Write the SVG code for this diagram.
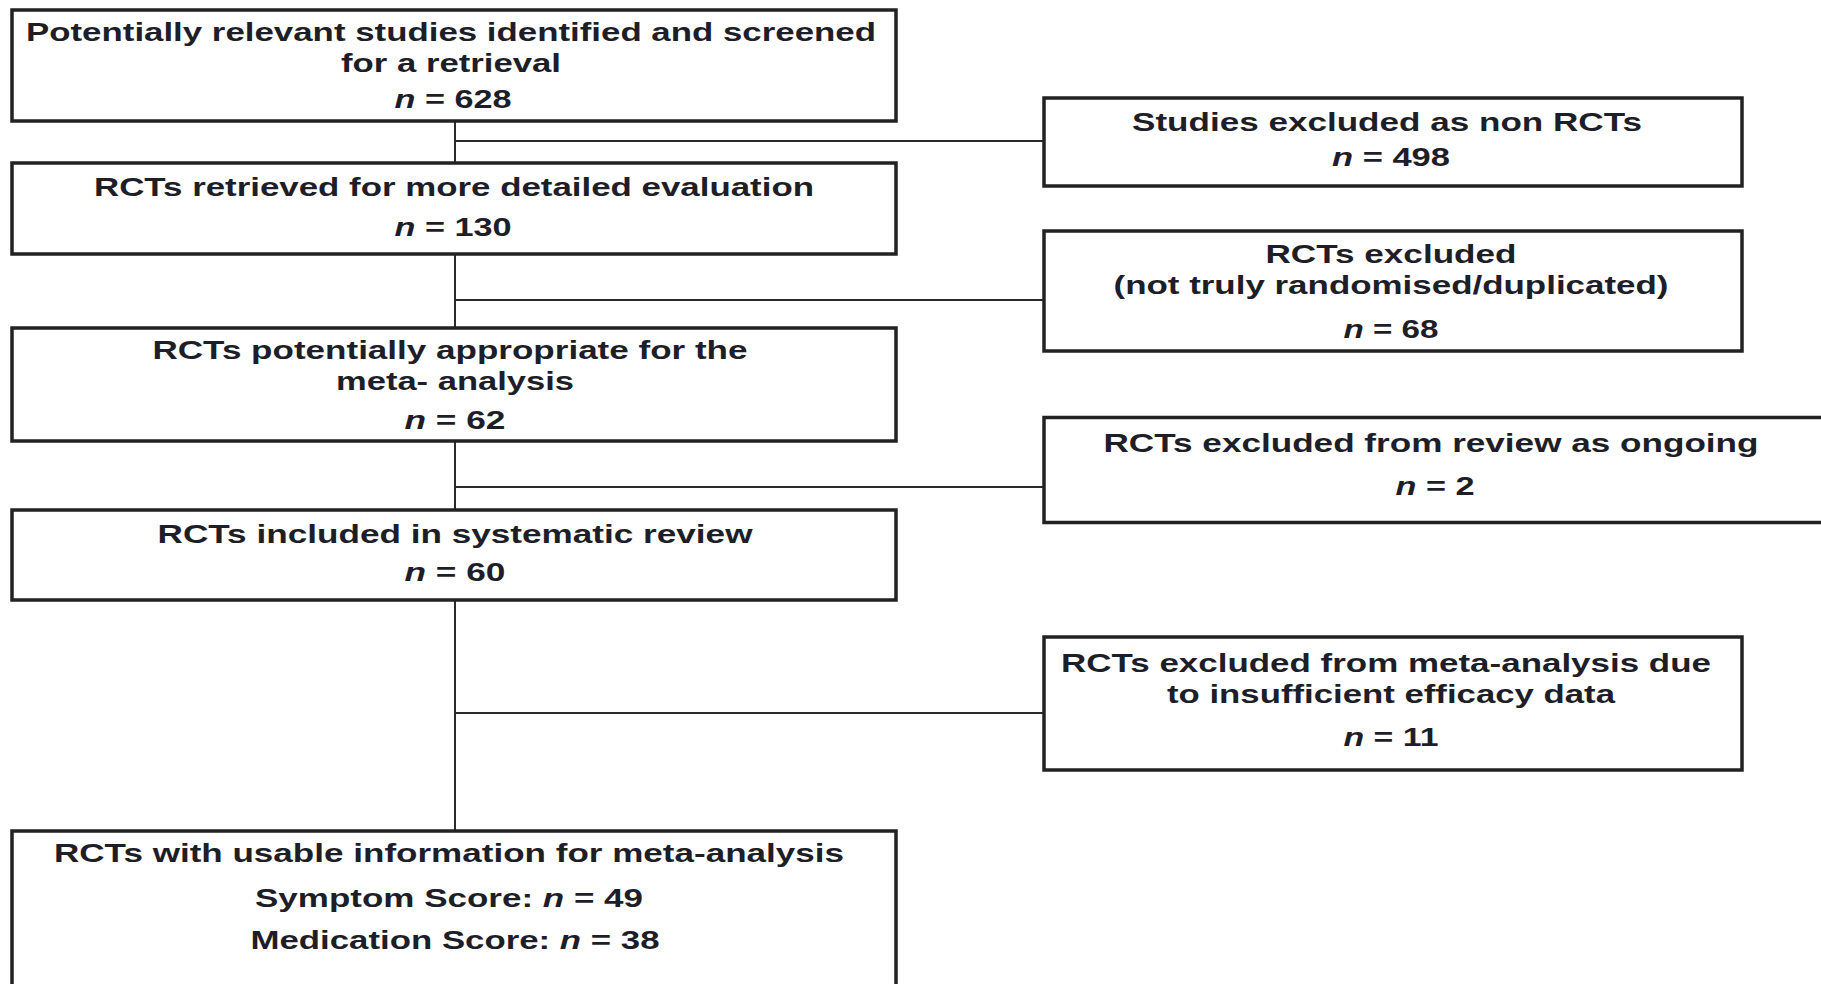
<svg xmlns="http://www.w3.org/2000/svg" width="1821" height="984" viewBox="0 0 1821 984">
<style>
.box{fill:#fff;stroke:#222;stroke-width:3.5}
.conn{stroke:#2a2a2a;stroke-width:2;fill:none}
text{font-family:"Liberation Sans",Arial,sans-serif;font-weight:bold;font-size:26px;fill:#1e1e28;text-anchor:middle}
.i{font-style:italic}
</style>
<rect width="1821" height="984" fill="#fff"/>
<g id="connectors">
<line class="conn" x1="455" y1="121" x2="455" y2="163"/>
<line class="conn" x1="455" y1="254" x2="455" y2="328"/>
<line class="conn" x1="455" y1="441" x2="455" y2="510"/>
<line class="conn" x1="455" y1="600" x2="455" y2="831"/>
<line class="conn" x1="455" y1="141" x2="1044" y2="141"/>
<line class="conn" x1="455" y1="300" x2="1044" y2="300"/>
<line class="conn" x1="455" y1="487" x2="1044" y2="487"/>
<line class="conn" x1="455" y1="713" x2="1044" y2="713"/>
</g>
<g id="n1">
<rect class="box" x="12" y="10" width="884" height="111"/>
<text x="451" y="40.5" textLength="850" lengthAdjust="spacingAndGlyphs">Potentially relevant studies identified and screened</text>
<text x="451" y="72" textLength="220" lengthAdjust="spacingAndGlyphs">for a retrieval</text>
<text x="453" y="108" textLength="117" lengthAdjust="spacingAndGlyphs"><tspan class="i">n</tspan> = 628</text>
</g>
<g id="n2">
<rect class="box" x="12" y="163" width="884" height="91"/>
<text x="454" y="196" textLength="720" lengthAdjust="spacingAndGlyphs">RCTs retrieved for more detailed evaluation</text>
<text x="453" y="235.5" textLength="117" lengthAdjust="spacingAndGlyphs"><tspan class="i">n</tspan> = 130</text>
</g>
<g id="n3">
<rect class="box" x="12" y="328" width="884" height="113"/>
<text x="450" y="358.5" textLength="595" lengthAdjust="spacingAndGlyphs">RCTs potentially appropriate for the</text>
<text x="455" y="390" textLength="238" lengthAdjust="spacingAndGlyphs">meta- analysis</text>
<text x="455" y="428.5" textLength="101" lengthAdjust="spacingAndGlyphs"><tspan class="i">n</tspan> = 62</text>
</g>
<g id="n4">
<rect class="box" x="12" y="510" width="884" height="90"/>
<text x="455" y="543" textLength="595" lengthAdjust="spacingAndGlyphs">RCTs included in systematic review</text>
<text x="455" y="580.5" textLength="101" lengthAdjust="spacingAndGlyphs"><tspan class="i">n</tspan> = 60</text>
</g>
<g id="n5">
<rect class="box" x="12" y="831" width="884" height="200"/>
<text x="449" y="861.5" textLength="790" lengthAdjust="spacingAndGlyphs">RCTs with usable information for meta-analysis</text>
<text x="449" y="907" textLength="388" lengthAdjust="spacingAndGlyphs">Symptom Score: <tspan class="i">n</tspan> = 49</text>
<text x="455" y="948.5" textLength="409" lengthAdjust="spacingAndGlyphs">Medication Score: <tspan class="i">n</tspan> = 38</text>
</g>
<g id="e1">
<rect class="box" x="1044" y="98" width="698" height="88"/>
<text x="1387" y="130.5" textLength="510" lengthAdjust="spacingAndGlyphs">Studies excluded as non RCTs</text>
<text x="1391" y="166" textLength="118" lengthAdjust="spacingAndGlyphs"><tspan class="i">n</tspan> = 498</text>
</g>
<g id="e2">
<rect class="box" x="1044" y="231" width="698" height="120"/>
<text x="1391" y="262.5" textLength="251" lengthAdjust="spacingAndGlyphs">RCTs excluded</text>
<text x="1391" y="294" textLength="555" lengthAdjust="spacingAndGlyphs">(not truly randomised/duplicated)</text>
<text x="1391" y="338" textLength="95" lengthAdjust="spacingAndGlyphs"><tspan class="i">n</tspan> = 68</text>
</g>
<g id="e3">
<rect class="box" x="1044" y="417.5" width="800" height="105"/>
<text x="1431" y="452" textLength="655" lengthAdjust="spacingAndGlyphs">RCTs excluded from review as ongoing</text>
<text x="1435" y="495" textLength="79" lengthAdjust="spacingAndGlyphs"><tspan class="i">n</tspan> = 2</text>
</g>
<g id="e4">
<rect class="box" x="1044" y="637" width="698" height="133"/>
<text x="1386" y="671.5" textLength="650" lengthAdjust="spacingAndGlyphs">RCTs excluded from meta-analysis due</text>
<text x="1391" y="703" textLength="448" lengthAdjust="spacingAndGlyphs">to insufficient efficacy data</text>
<text x="1391" y="746" textLength="95" lengthAdjust="spacingAndGlyphs"><tspan class="i">n</tspan> = 11</text>
</g>
</svg>
